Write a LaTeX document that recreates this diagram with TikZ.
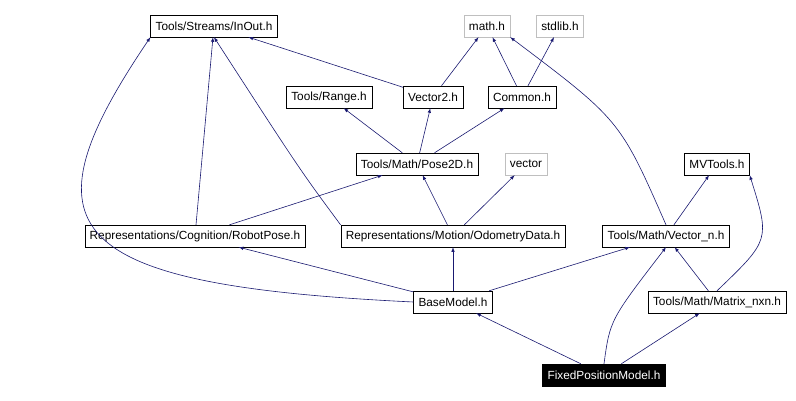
\documentclass[tikz,border=0pt]{standalone}
\usepackage{fontspec}
\setmainfont{Liberation Sans}
\definecolor{edge}{RGB}{25,25,112}
\definecolor{missing}{RGB}{191,191,191}
\tikzstyle{file}=[draw, rectangle, minimum height=22pt, inner xsep=5pt, font=\fontsize{11.8}{13}\selectfont]
\tikzset{sys/.style={draw=missing}}
\tikzstyle{dep}=[-latex, color=edge, semithick]
\tikzset{root/.style={fill=black, text=white}}

\begin{document}
\begin{tikzpicture}[x=1pt,y=-1pt]
  \useasboundingbox (0,0) rectangle (796,401);

  \draw (214,26) node[file] (InOut) {Tools/Streams/InOut.h};
  \draw (487,26) node[file,sys] (math) {math.h};
  \draw (560,26) node[file,sys] (stdlib) {stdlib.h};

  \draw (329,97) node[file] (Range) {Tools/Range.h};
  \draw (433,97) node[file] (Vector2) {Vector2.h};
  \draw (522,97) node[file] (Common) {Common.h};

  \draw (417,164) node[file] (Pose2D) {Tools/Math/Pose2D.h};
  \draw (526,164) node[file,sys] (vector) {vector};
  \draw (717,164) node[file] (MVTools) {MVTools.h};

  \draw (195,236) node[file] (RobotPose) {Representations/Cognition/RobotPose.h};
  \draw (453,236) node[file] (Odometry) {Representations/Motion/OdometryData.h};
  \draw (666,236) node[file] (Vectorn) {Tools/Math/Vector\_n.h};

  \draw (453,302) node[file] (BaseModel) {BaseModel.h};
  \draw (717,302) node[file] (Matrix) {Tools/Math/Matrix\_nxn.h};

  \draw (604,375) node[file,root] (Fixed) {FixedPositionModel.h};

  \draw[dep] (Vector2) -- (InOut);
  \draw[dep] (Vector2) -- (math);
  \draw[dep] (Common) -- (math);
  \draw[dep] (Common) -- (stdlib);

  \draw[dep] (Pose2D) -- (Range);
  \draw[dep] (Pose2D) -- (Vector2);
  \draw[dep] (Pose2D) -- (Common);

  \draw[dep] (RobotPose) -- (InOut);
  \draw[dep] (RobotPose) -- (Pose2D);
  \draw[dep] (Odometry.north west) .. controls (300,170) .. (InOut.south);
  \draw[dep] (Odometry) -- (Pose2D);
  \draw[dep] (Odometry) -- (vector);

  \draw[dep] (Vectorn.north) .. controls (620,120) .. (math.south east);
  \draw[dep] (Vectorn) -- (MVTools);

  \draw[dep] (BaseModel.west) .. controls (60,285) and (20,230) .. (InOut.south west);
  \draw[dep] (BaseModel) -- (RobotPose);
  \draw[dep] (BaseModel) -- (Odometry);
  \draw[dep] (BaseModel) -- (Vectorn);

  \draw[dep] (Matrix) -- (Vectorn);
  \draw[dep] (Matrix.north) .. controls (770,240) .. (MVTools.south east);

  \draw[dep] (Fixed) -- (BaseModel);
  \draw[dep] (Fixed) -- (Matrix);
  \draw[dep] (Fixed.north) .. controls (610,320) .. (Vectorn.south);
\end{tikzpicture}
\end{document}
